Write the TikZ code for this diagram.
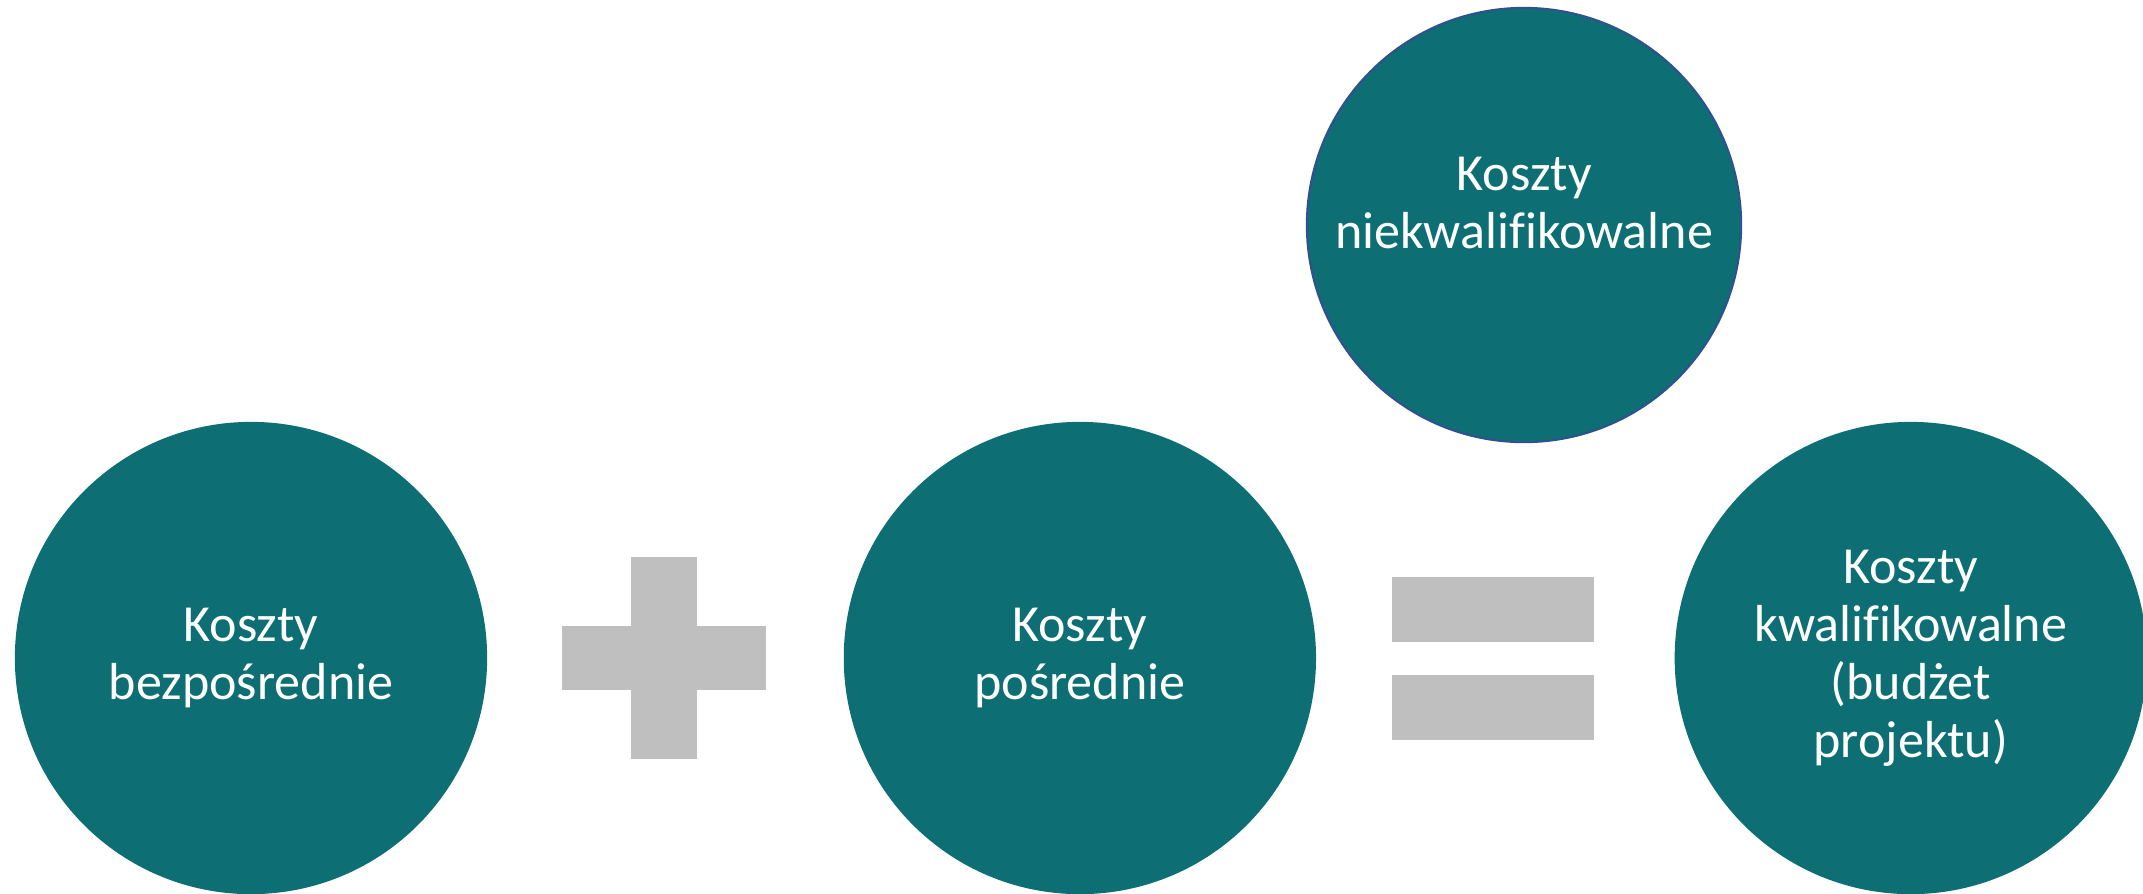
\documentclass[tikz,border=0pt]{standalone}
\usepackage{fontspec}
\setmainfont{Carlito}[Ligatures=NoCommon]
\usetikzlibrary{positioning}
\definecolor{costteal}{HTML}{0D6E74}
\definecolor{signgray}{HTML}{BFBFBF}
\definecolor{edgeblue}{HTML}{2F528F}

\begin{document}
\begin{tikzpicture}[
    x=0.01cm, y=-0.01cm,
    font=\fontsize{14.8pt}{16.5pt}\selectfont,
    cost/.style={circle, fill=costteal, text=white, minimum size=4.72cm, inner sep=0pt, align=center},
    bar/.style={fill=signgray, inner sep=0pt},
]
    \useasboundingbox (0,0) rectangle (2143,893);
    \clip (0,0) rectangle (2143,893);

    % --- Bottom row ---
    \node[cost] (direct) at (251,658) {Koszty\\bezpośrednie};
    \node[cost, right=3.55cm of direct] (indirect) {Koszty\\pośrednie};
    \node[cost, right=3.57cm of indirect] (eligible) {Koszty\\kwalifikowalne\\(budżet\\projektu)};

    % --- Top circle ---
    \node[cost, minimum size=4.34cm, draw=edgeblue, line width=0.6pt] (noneligible) at (1524,225) {};
    \node[text=white, align=center] (noneligtext) at ([yshift=0.22cm]noneligible.center) {Koszty\\niekwalifikowalne};

    % --- Plus sign ---
    \node[bar, minimum width=2.03cm, minimum height=0.64cm] (plush) at (664,658) {};
    \node[bar, minimum width=0.65cm, minimum height=2.02cm] (plusv) at (plush.center) {};

    % --- Equals sign ---
    \node[bar, minimum width=2.02cm, minimum height=0.65cm] (eqtop) at (1493,609) {};
    \node[bar, minimum width=2.02cm, minimum height=0.65cm, below=0.32cm of eqtop] (eqbot) {};

\end{tikzpicture}
\end{document}
